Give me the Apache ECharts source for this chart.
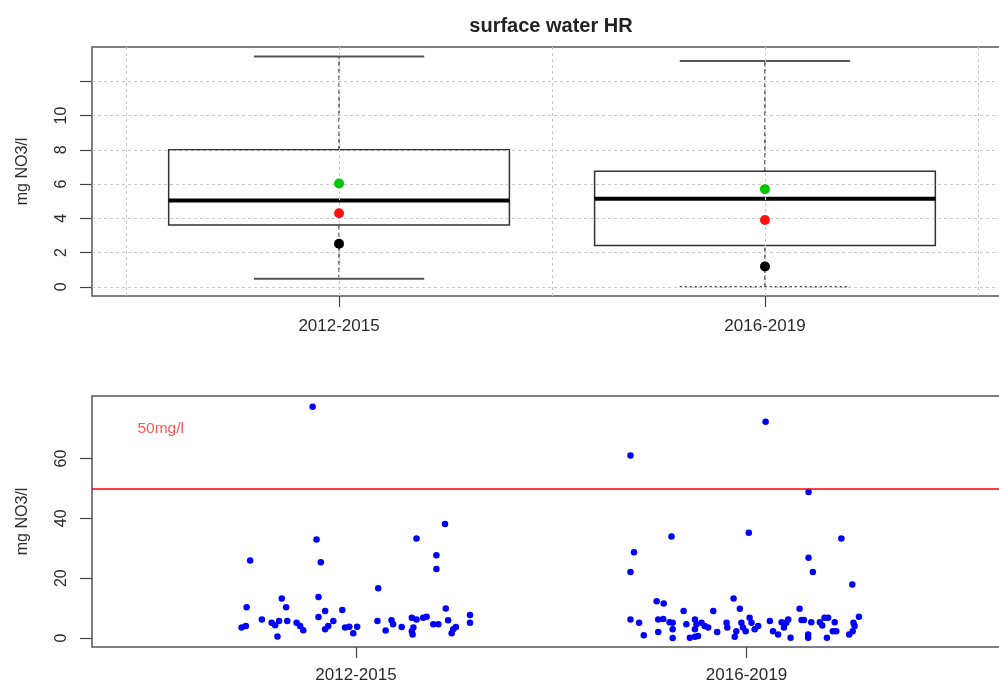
<!DOCTYPE html>
<html>
<head>
<meta charset="utf-8">
<script src="https://cdn.jsdelivr.net/npm/echarts@6/dist/echarts.min.js"></script>
<style>html,body{margin:0;padding:0;background:#fff;}#c{width:999px;height:687px;}</style>
</head>
<body>
<div id="c"></div>
<script>
// ---------- data ----------
const titleText = 'surface water HR';
const yName = 'mg NO3/l';
const categories = ['2012-2015', '2016-2019'];
const categoryPos = [1, 2];

// top panel: box statistics
const whiskerLow = [0.46, 0.0];
const boxQ1 = [3.61, 2.41];
const boxMedian = [5.03, 5.14];
const boxQ3 = [8.0, 6.74];
const whiskerHigh = [13.45, 13.18];
const greenVals = [6.03, 5.70];
const redVals = [4.29, 3.90];
const blackVals = [2.51, 1.18];
const topTicks = [0, 2, 4, 6, 8, 10, 12];
const topLabels = [0, 2, 4, 6, 8, 10];
const topVGrid = [0.5, 1, 1.5, 2, 2.5];

// bottom panel: individual samples [position, value]
const samples2012 = [
  [0.889, 77.3], [0.729, 25.9], [0.899, 32.9], [0.910, 25.3], [1.155, 33.3], [1.228, 38.1],
  [1.206, 27.7], [1.206, 23.1], [1.057, 16.6], [0.720, 10.3], [0.810, 13.2], [0.821, 10.3],
  [0.904, 13.7], [0.921, 9.0], [0.965, 9.4], [1.230, 9.9], [0.707, 3.5], [0.718, 4.0],
  [0.759, 6.2], [0.784, 5.1], [0.793, 4.3], [0.799, 0.5], [0.803, 5.7], [0.824, 5.7],
  [0.848, 5.1], [0.857, 4.0], [0.865, 2.6], [0.904, 7.0], [0.921, 2.9], [0.929, 4.0],
  [0.942, 5.7], [0.972, 3.5], [0.983, 3.8], [0.993, 1.6], [1.003, 3.8], [1.055, 5.7],
  [1.076, 2.5], [1.091, 5.9], [1.095, 4.6], [1.117, 3.7], [1.143, 6.8], [1.143, 2.3],
  [1.147, 3.5], [1.155, 6.2], [1.145, 1.2], [1.172, 6.8], [1.181, 7.1], [1.198, 4.6],
  [1.211, 4.6], [1.236, 5.9], [1.245, 1.6], [1.249, 2.9], [1.256, 3.7], [1.292, 7.7],
  [1.292, 5.1]
];
const samples2016 = [
  [2.049, 72.3], [1.703, 61.0], [2.159, 48.8], [1.808, 33.9], [2.006, 35.2], [2.243, 33.3],
  [1.712, 28.7], [1.703, 22.1], [2.159, 26.8], [2.170, 22.1], [2.271, 17.9], [1.703, 6.2],
  [1.770, 12.3], [1.788, 11.5], [1.967, 13.2], [1.983, 9.8], [1.839, 9.0], [1.915, 9.0],
  [2.136, 9.8], [1.725, 5.1], [1.737, 0.9], [1.774, 6.2], [1.774, 2.0], [1.787, 6.4],
  [1.803, 5.3], [1.811, 5.1], [1.811, 2.9], [1.811, 0.0], [1.846, 4.6], [1.855, 0.1],
  [1.868, 6.2], [1.868, 2.9], [1.868, 0.45], [1.876, 0.7], [1.872, 4.6], [1.885, 5.1],
  [1.893, 4.0], [1.902, 3.5], [1.925, 2.0], [1.949, 5.1], [1.951, 3.5], [1.970, 0.45],
  [1.974, 2.3], [1.987, 5.1], [1.991, 3.5], [1.998, 2.3], [2.008, 6.8], [2.013, 5.1],
  [2.021, 2.9], [2.030, 4.0], [2.060, 5.7], [2.068, 2.3], [2.081, 1.2], [2.090, 5.3],
  [2.096, 3.5], [2.102, 5.1], [2.107, 6.2], [2.113, 0.1], [2.141, 6.0], [2.147, 6.0],
  [2.158, 1.2], [2.158, 0.1], [2.166, 5.3], [2.188, 5.3], [2.194, 4.2], [2.200, 6.8],
  [2.209, 6.8], [2.206, 0.1], [2.226, 5.3], [2.230, 2.3], [2.221, 2.3], [2.263, 1.2],
  [2.274, 5.1], [2.277, 4.0], [2.272, 2.3], [2.288, 7.1]
];
const limitValue = 50;
const limitLabel = '50mg/l';
const limitLabelPos = [0.5, 70];
const bottomTicks = [0, 20, 40, 60];

// ---------- chart ----------
const FONT = 'Liberation Sans, Arial, sans-serif';
const TXT = '#2a2a2a';
const AX = '#444';

const boxData = categoryPos.map((p, i) => [p, whiskerLow[i], boxQ1[i], boxMedian[i], boxQ3[i], whiskerHigh[i]]);

function renderBox(params, api) {
  const x = api.value(0);
  const lo = api.coord([x, api.value(1)]);
  const q1 = api.coord([x, api.value(2)]);
  const md = api.coord([x, api.value(3)]);
  const q3 = api.coord([x, api.value(4)]);
  const hi = api.coord([x, api.value(5)]);
  const halfW = api.size([0.4, 0])[0];
  const capW = api.size([0.2, 0])[0];
  const cx = q1[0];
  const dashStyle = { stroke: '#222', lineWidth: 1.2, lineDash: [4, 3] };
  const capStyle = { stroke: '#555', lineWidth: 2 };
  const lowCapStyle = params.dataIndex === 1 ? { stroke: '#444', lineWidth: 1.5, lineDash: [2, 3] } : capStyle;
  return {
    type: 'group',
    children: [
      { type: 'line', shape: { x1: cx, y1: q3[1], x2: cx, y2: hi[1] }, style: dashStyle },
      { type: 'line', shape: { x1: cx, y1: lo[1], x2: cx, y2: q1[1] }, style: dashStyle },
      { type: 'line', shape: { x1: cx - capW, y1: hi[1], x2: cx + capW, y2: hi[1] }, style: capStyle },
      { type: 'line', shape: { x1: cx - capW, y1: lo[1], x2: cx + capW, y2: lo[1] }, style: lowCapStyle },
      { type: 'rect', shape: { x: cx - halfW, y: q3[1], width: 2 * halfW, height: q1[1] - q3[1] },
        style: { fill: 'rgba(255,255,255,0)', stroke: '#333', lineWidth: 1.5 } },
      { type: 'line', shape: { x1: cx - halfW, y1: md[1], x2: cx + halfW, y2: md[1] }, style: { stroke: '#000', lineWidth: 4 } }
    ]
  };
}

const gridLineStyle = { color: '#c8c8c8', type: [3, 3], width: 1 };

const option = {
  animation: false,
  backgroundColor: '#fff',
  textStyle: { fontFamily: FONT },
  title: {
    text: titleText, left: 546, top: 11, textAlign: 'center',
    textStyle: { fontFamily: FONT, fontSize: 20, fontWeight: 'bold', color: '#222' }
  },
  grid: [
    { left: 92, top: 47, width: 920, height: 249, show: true, borderColor: '#555', borderWidth: 1.5,
      backgroundColor: 'transparent', outerBoundsMode: 'none', containLabel: false },
    { left: 92, top: 396, width: 920, height: 251, show: true, borderColor: '#555', borderWidth: 1.5,
      backgroundColor: 'transparent', outerBoundsMode: 'none', containLabel: false }
  ],
  xAxis: [
    {
      gridIndex: 0, type: 'value', min: 0.42, max: 2.58,
      axisLine: { show: false, onZero: false },
      axisTick: { show: true, length: 11, lineStyle: { color: AX, width: 1.2 }, customValues: categoryPos },
      axisLabel: { customValues: categoryPos, margin: 22, fontSize: 17, color: TXT, fontFamily: FONT,
        formatter: v => categories[categoryPos.indexOf(v)] || '' },
      splitLine: { show: false }
    },
    {
      gridIndex: 1, type: 'value', min: 0.324, max: 2.68,
      axisLine: { show: false, onZero: false },
      axisTick: { show: true, length: 11, lineStyle: { color: AX, width: 1.2 }, customValues: categoryPos },
      axisLabel: { customValues: categoryPos, margin: 20, fontSize: 17, color: TXT, fontFamily: FONT,
        formatter: v => categories[categoryPos.indexOf(v)] || '' },
      splitLine: { show: false }
    }
  ],
  yAxis: [
    {
      gridIndex: 0, type: 'value', min: -0.54, max: 14.0,
      name: yName, nameLocation: 'middle', nameGap: 61, nameRotate: 90,
      nameTextStyle: { fontSize: 16, color: TXT, fontFamily: FONT },
      axisLine: { show: false, onZero: false },
      axisTick: { show: true, length: 12, lineStyle: { color: AX, width: 1.2 }, customValues: topTicks },
      axisLabel: { customValues: topLabels, rotate: 90, margin: 22, fontSize: 16, color: TXT, fontFamily: FONT },
      splitLine: { show: false }
    },
    {
      gridIndex: 1, type: 'value', min: -3.0, max: 80.9,
      name: yName, nameLocation: 'middle', nameGap: 61, nameRotate: 90,
      nameTextStyle: { fontSize: 16, color: TXT, fontFamily: FONT },
      axisLine: { show: false, onZero: false },
      axisTick: { show: true, length: 12, lineStyle: { color: AX, width: 1.2 }, customValues: bottomTicks },
      axisLabel: { customValues: bottomTicks, rotate: 90, margin: 22, fontSize: 16, color: TXT, fontFamily: FONT },
      splitLine: { show: false }
    }
  ],
  series: [
    {
      type: 'line', xAxisIndex: 0, yAxisIndex: 0, data: [], silent: true,
      markLine: {
        silent: true, symbol: 'none', label: { show: false },
        lineStyle: gridLineStyle,
        data: topTicks.map(v => ({ yAxis: v })).concat(topVGrid.map(v => ({ xAxis: v })))
      }
    },
    {
      type: 'custom', xAxisIndex: 0, yAxisIndex: 0, data: boxData, renderItem: renderBox, silent: true,
      encode: { x: 0, y: [1, 2, 3, 4, 5] }, clip: false
    },
    {
      type: 'scatter', xAxisIndex: 0, yAxisIndex: 0, symbol: 'circle', symbolSize: 10,
      itemStyle: { color: '#00c800', opacity: 1 }, data: categoryPos.map((p, i) => [p, greenVals[i]]), z: 5
    },
    {
      type: 'scatter', xAxisIndex: 0, yAxisIndex: 0, symbol: 'circle', symbolSize: 10,
      itemStyle: { color: '#ff1010', opacity: 1 }, data: categoryPos.map((p, i) => [p, redVals[i]]), z: 5
    },
    {
      type: 'scatter', xAxisIndex: 0, yAxisIndex: 0, symbol: 'circle', symbolSize: 10,
      itemStyle: { color: '#000', opacity: 1 }, data: categoryPos.map((p, i) => [p, blackVals[i]]), z: 5
    },
    {
      type: 'scatter', xAxisIndex: 1, yAxisIndex: 1, symbol: 'circle', symbolSize: 6.5,
      itemStyle: { color: '#0000ff', opacity: 1 }, data: samples2012.concat(samples2016),
      markLine: {
        silent: true, symbol: 'none', label: { show: false },
        lineStyle: { color: '#ff0000', type: 'solid', width: 1.5 },
        data: [{ yAxis: limitValue }]
      }
    },
    {
      type: 'scatter', xAxisIndex: 1, yAxisIndex: 1, symbolSize: 0, silent: true,
      data: [limitLabelPos],
      label: { show: true, position: 'inside', formatter: limitLabel, fontSize: 15.5, color: '#ff2a2a', fontFamily: FONT }
    }
  ]
};

const chart = echarts.init(document.getElementById('c'), null, { renderer: 'canvas' });
chart.setOption(option);
</script>
</body>
</html>
